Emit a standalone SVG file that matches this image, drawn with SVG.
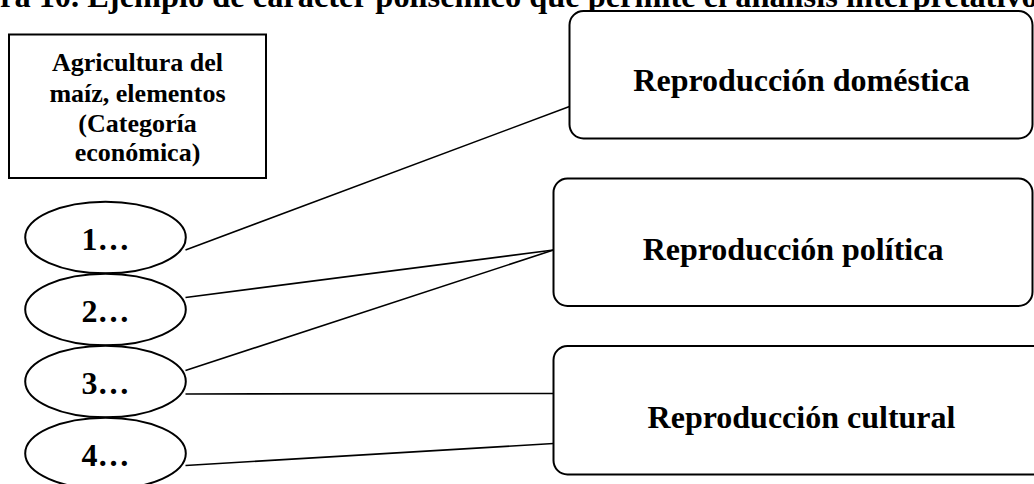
<svg xmlns="http://www.w3.org/2000/svg" width="1034" height="484" viewBox="0 0 1034 484">
<style>
text{font-family:"Liberation Serif","Times New Roman",serif;font-weight:bold;fill:#000}
.big{font-size:32px;text-anchor:middle}
.small{font-size:26px;text-anchor:middle}
.shape{fill:#fff;stroke:#000;stroke-width:2}
.conn line{stroke:#000;stroke-width:1.6}
</style>
<rect width="1034" height="484" fill="#fff"/>
<text id="title" x="0" y="6.5" font-size="32.4">ra 10. Ejemplo de carácter polisémico que permite el análisis interpretativo</text>
<g id="connectors" class="conn">
<line x1="185.5" y1="250" x2="569.5" y2="106.5"/>
<line x1="185.5" y1="297.5" x2="553.5" y2="250"/>
<line x1="185.5" y1="370.5" x2="553.5" y2="250"/>
<line x1="185.5" y1="394" x2="553.5" y2="393.5"/>
<line x1="185.5" y1="465.5" x2="553.5" y2="443.5"/>
</g>
<g id="category">
<rect class="shape" x="9" y="34.5" width="257" height="143.5" stroke-width="1.6"/>
<text class="small" x="137.5" y="71">Agricultura del</text>
<text class="small" x="137.5" y="101.5">maíz, elementos</text>
<text class="small" x="137.5" y="131.5">(Categoría</text>
<text class="small" x="137.5" y="161">económica)</text>
</g>
<g id="e1"><ellipse class="shape" cx="105.5" cy="237.5" rx="80.3" ry="35.8"/><text class="big" x="105.5" y="250">1…</text></g>
<g id="e2"><ellipse class="shape" cx="105.5" cy="309.5" rx="80.3" ry="35.8"/><text class="big" x="105.5" y="321.7">2…</text></g>
<g id="e3"><ellipse class="shape" cx="105.5" cy="381.5" rx="80.3" ry="35.8"/><text class="big" x="105.5" y="393.5">3…</text></g>
<g id="e4"><ellipse class="shape" cx="105.5" cy="453.5" rx="80.3" ry="35.8"/><text class="big" x="105.5" y="466">4…</text></g>
<g id="domestica"><rect class="shape" x="569.5" y="11" width="463" height="127.5" rx="14"/><text class="big" x="801.5" y="91">Reproducción doméstica</text></g>
<g id="politica"><rect class="shape" x="553.5" y="178.5" width="479" height="127.5" rx="14"/><text class="big" x="793" y="260">Reproducción política</text></g>
<g id="cultural"><rect class="shape" x="553.5" y="346" width="496" height="128.5" rx="14"/><text class="big" x="801.5" y="427.5">Reproducción cultural</text></g>
</svg>
